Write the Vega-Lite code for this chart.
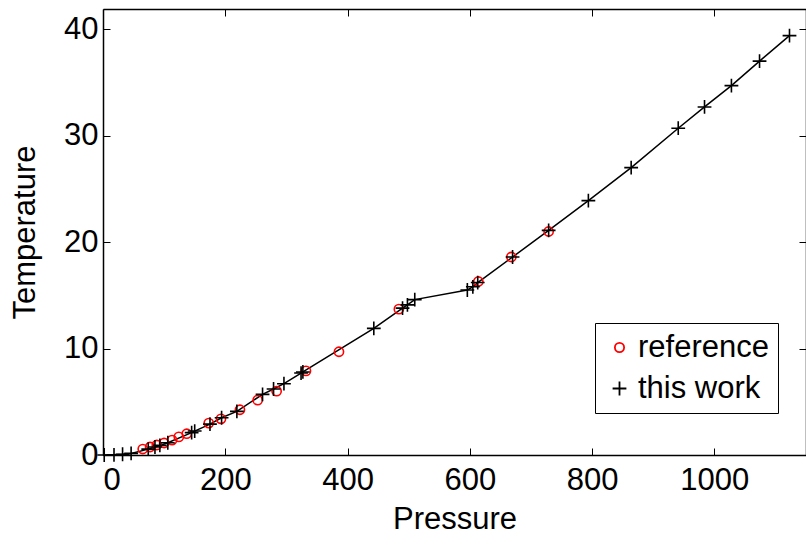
{
  "$schema": "https://vega.github.io/schema/vega-lite/v6.json",
  "width": 703,
  "height": 446,
  "autosize": {"type": "none"},
  "padding": {"left": 103, "top": 9, "right": 0, "bottom": 79},
  "background": "white",
  "config": {
    "view": {"stroke": null},
    "font": "Liberation Sans",
    "axis": {
      "grid": false,
      "domainColor": "black",
      "domainWidth": 1.5,
      "tickColor": "black",
      "tickWidth": 1,
      "tickSize": -7,
      "labelFont": "Liberation Sans",
      "labelFontSize": 31,
      "labelColor": "black",
      "titleFont": "Liberation Sans",
      "titleFontSize": 31,
      "titleFontWeight": "normal",
      "titleColor": "black"
    }
  },
  "data": {
    "values": [
      {"series": "reference", "P": 65, "T": 0.56},
      {"series": "reference", "P": 77, "T": 0.75},
      {"series": "reference", "P": 88, "T": 0.94},
      {"series": "reference", "P": 100, "T": 1.13},
      {"series": "reference", "P": 113, "T": 1.4},
      {"series": "reference", "P": 124, "T": 1.7},
      {"series": "reference", "P": 137, "T": 2.0},
      {"series": "reference", "P": 173, "T": 3.0},
      {"series": "reference", "P": 193, "T": 3.4},
      {"series": "reference", "P": 224, "T": 4.25},
      {"series": "reference", "P": 253, "T": 5.15},
      {"series": "reference", "P": 284, "T": 6.0},
      {"series": "reference", "P": 332, "T": 7.9},
      {"series": "reference", "P": 386, "T": 9.7},
      {"series": "reference", "P": 484, "T": 13.7},
      {"series": "reference", "P": 614, "T": 16.3},
      {"series": "reference", "P": 668, "T": 18.6},
      {"series": "reference", "P": 729, "T": 21.0},
      {"series": "this work", "P": 2, "T": 0.0},
      {"series": "this work", "P": 18, "T": 0.02},
      {"series": "this work", "P": 32, "T": 0.07},
      {"series": "this work", "P": 46, "T": 0.15},
      {"series": "this work", "P": 74, "T": 0.55},
      {"series": "this work", "P": 85, "T": 0.75},
      {"series": "this work", "P": 93, "T": 0.9},
      {"series": "this work", "P": 106, "T": 1.15},
      {"series": "this work", "P": 145, "T": 2.1},
      {"series": "this work", "P": 150, "T": 2.25},
      {"series": "this work", "P": 175, "T": 2.9},
      {"series": "this work", "P": 194, "T": 3.5},
      {"series": "this work", "P": 219, "T": 4.1},
      {"series": "this work", "P": 261, "T": 5.7},
      {"series": "this work", "P": 279, "T": 6.2},
      {"series": "this work", "P": 296, "T": 6.7},
      {"series": "this work", "P": 324, "T": 7.7},
      {"series": "this work", "P": 327, "T": 7.8},
      {"series": "this work", "P": 443, "T": 11.9},
      {"series": "this work", "P": 490, "T": 13.8},
      {"series": "this work", "P": 498, "T": 14.1},
      {"series": "this work", "P": 510, "T": 14.6},
      {"series": "this work", "P": 596, "T": 15.5},
      {"series": "this work", "P": 605, "T": 15.8},
      {"series": "this work", "P": 613, "T": 16.2},
      {"series": "this work", "P": 670, "T": 18.6},
      {"series": "this work", "P": 729, "T": 21.1},
      {"series": "this work", "P": 794, "T": 23.9},
      {"series": "this work", "P": 864, "T": 27.0},
      {"series": "this work", "P": 941, "T": 30.7},
      {"series": "this work", "P": 984, "T": 32.7},
      {"series": "this work", "P": 1028, "T": 34.7},
      {"series": "this work", "P": 1074, "T": 37.0},
      {"series": "this work", "P": 1123, "T": 39.4}
    ]
  },
  "layer": [
    {
      "transform": [{"filter": {"field": "series", "equal": "this work"}}],
      "mark": {"type": "line", "color": "black", "strokeWidth": 1.5},
      "encoding": {
        "x": {
          "field": "P", "type": "quantitative",
          "scale": {"domain": [0, 1150], "nice": false, "zero": false},
          "axis": {"orient": "bottom", "values": [0, 200, 400, 600, 800, 1000], "format": "d", "labelPadding": 17, "title": "Pressure", "titleY": 73, "titleBaseline": "alphabetic"}
        },
        "y": {
          "field": "T", "type": "quantitative",
          "scale": {"domain": [0, 41.9], "nice": false, "zero": false},
          "axis": {"orient": "left", "values": [0, 10, 20, 30, 40], "format": "d", "labelPadding": 12, "title": "Temperature", "titleX": -69, "titleBaseline": "alphabetic"}
        }
      }
    },
    {
      "mark": {"type": "point", "filled": false, "strokeWidth": 1.6, "opacity": 1},
      "encoding": {
        "x": {
          "field": "P", "type": "quantitative",
          "axis": {"orient": "top", "values": [0, 200, 400, 600, 800, 1000], "labels": false, "title": null}
        },
        "y": {
          "field": "T", "type": "quantitative",
          "axis": {"orient": "right", "values": [0, 10, 20, 30, 40], "labels": false, "title": null}
        },
        "color": {
          "field": "series", "type": "nominal",
          "scale": {"domain": ["reference", "this work"], "range": ["#ff0000", "#000000"]},
          "legend": {
            "title": null,
            "orient": "none",
            "legendX": 492,
            "legendY": 314,
            "strokeColor": "black",
            "fillColor": "white",
            "padding": 9,
            "symbolOffset": 0,
            "labelFontSize": 31,
            "labelFont": "Liberation Sans",
            "labelColor": "black",
            "labelOffset": 3,
            "rowPadding": 9,
            "symbolSize": 60,
            "symbolStrokeWidth": 1.8
          }
        },
        "shape": {
          "field": "series", "type": "nominal",
          "scale": {"domain": ["reference", "this work"], "range": ["circle", "M-1,0L1,0M0,-1L0,1"]}
        },
        "size": {
          "field": "series", "type": "nominal",
          "scale": {"domain": ["reference", "this work"], "range": [85, 190]},
          "legend": null
        }
      }
    }
  ],
  "resolve": {"axis": {"x": "independent", "y": "independent"}}
}
